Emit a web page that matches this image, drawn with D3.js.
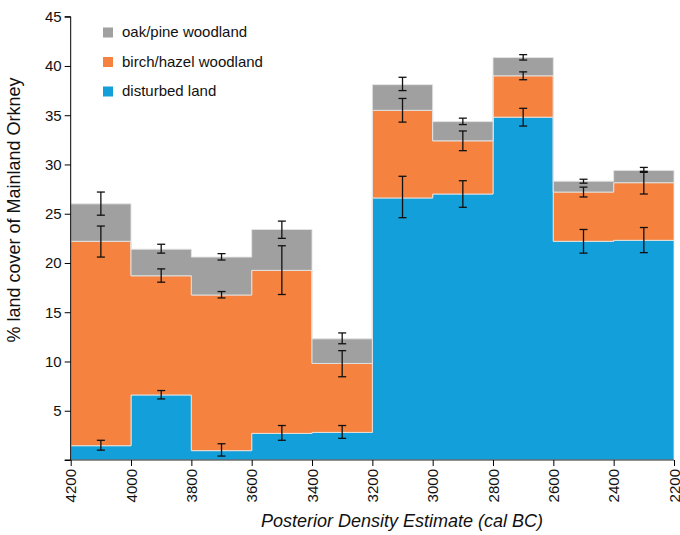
<!DOCTYPE html>
<html>
<head>
<meta charset="utf-8">
<script src="https://cdn.jsdelivr.net/npm/d3@7"></script>
<style>
  body { margin: 0; background: #fff; }
  svg { display: block; font-family: "Liberation Sans", Arial, sans-serif; }
</style>
</head>
<body>
<svg id="chart" width="680" height="535"></svg>
<script>
// Bin start / end (cal BC)
const binStart = [4200, 4000, 3800, 3600, 3400, 3200, 3000, 2800, 2600, 2400];
const binEnd   = [4000, 3800, 3600, 3400, 3200, 3000, 2800, 2600, 2400, 2200];

// Cumulative stack tops (% land cover)
const disturbedTop = [1.45, 6.6, 0.95, 2.7, 2.8, 26.6, 27.0, 34.8, 22.2, 22.3];
const birchTop     = [22.2, 18.7, 16.75, 19.25, 9.8, 35.5, 32.4, 39.0, 27.2, 28.15];
const oakTop       = [26.0, 21.4, 20.6, 23.4, 12.3, 38.1, 34.35, 40.85, 28.3, 29.4];

// Error bar ranges [low, high]
const disturbedErrLow  = [1.0, 6.2, 0.4, 2.0, 2.2, 24.6, 25.65, 33.9, 21.0, 21.05];
const disturbedErrHigh = [2.0, 7.05, 1.65, 3.5, 3.5, 28.8, 28.35, 35.7, 23.4, 23.6];
const birchErrLow      = [20.6, 18.05, 16.45, 16.8, 8.45, 34.3, 31.4, 38.6, 26.7, 27.0];
const birchErrHigh     = [23.75, 19.4, 17.1, 21.75, 11.1, 36.7, 33.4, 39.4, 27.7, 29.3];
const oakErrLow        = [24.85, 21.0, 20.3, 22.5, 11.8, 37.5, 34.05, 40.6, 28.1, 29.2];
const oakErrHigh       = [27.2, 21.9, 20.95, 24.25, 12.9, 38.85, 34.7, 41.15, 28.5, 29.7];

const seriesNames  = ["oak/pine woodland", "birch/hazel woodland", "disturbed land"];
const seriesColors = ["#a0a0a0", "#f5833f", "#139fda"];

const xTicks = [4200, 4000, 3800, 3600, 3400, 3200, 3000, 2800, 2600, 2400, 2200];
const yTicks = [0, 5, 10, 15, 20, 25, 30, 35, 40, 45];

const svg = d3.select("#chart");
const x = d3.scaleLinear().domain([4200, 2200]).range([70.7, 674]);
const y = d3.scaleLinear().domain([0, 45]).range([460, 16.7]);

// layers: bottom to top
const zeros = binStart.map(() => 0);
const layers = [
  { color: seriesColors[2], base: zeros, top: disturbedTop, lo: disturbedErrLow, hi: disturbedErrHigh },
  { color: seriesColors[1], base: disturbedTop, top: birchTop, lo: birchErrLow, hi: birchErrHigh },
  { color: seriesColors[0], base: birchTop, top: oakTop, lo: oakErrLow, hi: oakErrHigh }
];

// step areas: bin edges, last edge repeats last bin's values
const edges = binStart.concat([binEnd[binEnd.length - 1]]);
const idx = edges.map((e, i) => Math.min(i, binStart.length - 1));

const gBars = svg.append("g");
layers.forEach(L => {
  const area = d3.area()
    .curve(d3.curveStepAfter)
    .x((d, k) => x(edges[k]))
    .y0(d => y(L.base[d]))
    .y1(d => y(L.top[d]));
  gBars.append("path")
    .datum(idx)
    .attr("d", area)
    .attr("fill", L.color)
    .attr("stroke", "#e4e4e4")
    .attr("stroke-width", 0.9);
});

// error bars
const gErr = svg.append("g").attr("stroke", "#111").attr("stroke-width", 1.3);
const cap = 4;
layers.forEach(L => {
  binStart.forEach((s, i) => {
    const cx = x((binStart[i] + binEnd[i]) / 2);
    gErr.append("line").attr("x1", cx).attr("x2", cx).attr("y1", y(L.lo[i])).attr("y2", y(L.hi[i]));
    gErr.append("line").attr("x1", cx - cap).attr("x2", cx + cap).attr("y1", y(L.lo[i])).attr("y2", y(L.lo[i]));
    gErr.append("line").attr("x1", cx - cap).attr("x2", cx + cap).attr("y1", y(L.hi[i])).attr("y2", y(L.hi[i]));
  });
});

// axes
const yAxis = d3.axisLeft(y).tickValues(yTicks).tickSize(6).tickPadding(3)
  .tickFormat(d => d === 0 ? "" : d);
const gy = svg.append("g").attr("transform", "translate(70.7,0)").call(yAxis);
gy.select(".domain").attr("stroke", "#000").attr("d", `M-6,${y(0)}H0V${y(45)}H-6`);
gy.selectAll("text").attr("font-size", 15).attr("fill", "#111").attr("font-family", "Liberation Sans, Arial, sans-serif");

const xAxis = d3.axisBottom(x).tickValues(xTicks).tickSize(6).tickFormat(d3.format("d"));
const gx = svg.append("g").attr("transform", `translate(0,${y(0)})`).call(xAxis);
gx.select(".domain").attr("stroke", "#333").attr("d", `M${x(4200)},0H${x(2200)}`);
gx.selectAll("text")
  .attr("font-size", 15).attr("fill", "#111").attr("font-family", "Liberation Sans, Arial, sans-serif")
  .attr("text-anchor", "end")
  .attr("transform", "rotate(-90)")
  .attr("x", -9).attr("y", 0).attr("dy", "0.35em");

// axis titles
svg.append("text")
  .attr("transform", "translate(20,210) rotate(-90)")
  .attr("text-anchor", "middle")
  .attr("font-size", 18).attr("fill", "#111")
  .text("% land cover of Mainland Orkney");

svg.append("text")
  .attr("x", 402).attr("y", 527)
  .attr("text-anchor", "middle")
  .attr("font-size", 18).attr("font-style", "italic").attr("fill", "#111")
  .text("Posterior Density Estimate (cal BC)");

// legend
const leg = svg.append("g");
seriesNames.forEach((n, i) => {
  const by = 37 + i * 29.5;
  leg.append("rect").attr("x", 103).attr("y", by - 9.5).attr("width", 10).attr("height", 10).attr("fill", seriesColors[i]);
  leg.append("text").attr("x", 122).attr("y", by).attr("font-size", 15).attr("fill", "#111").text(n);
});
</script>
</body>
</html>
